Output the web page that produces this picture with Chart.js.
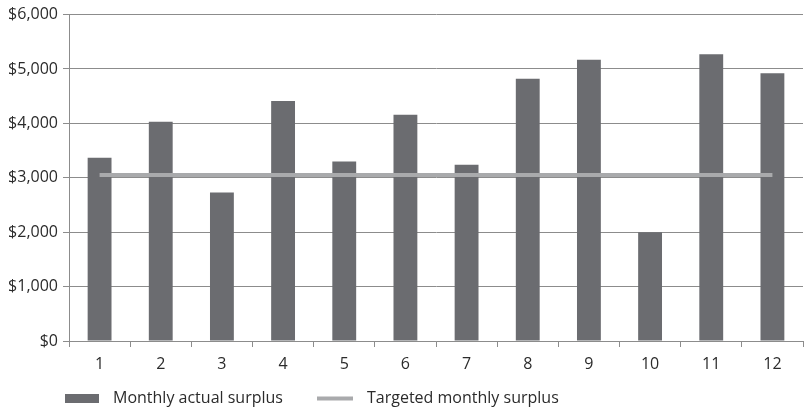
<!DOCTYPE html>
<html>
<head>
<meta charset="utf-8">
<style>
  html, body { margin: 0; padding: 0; background: #fff; }
  #wrap { width: 806px; height: 410px; }
</style>
<script src="https://cdn.jsdelivr.net/npm/chart.js@4/dist/chart.umd.min.js"></script>
</head>
<body>
<div id="wrap"><canvas id="chart" width="806" height="410"></canvas></div>
<script>
const months = ['1', '2', '3', '4', '5', '6', '7', '8', '9', '10', '11', '12'];
const actualSurplus = [3370, 4030, 2730, 4410, 3300, 4160, 3240, 4820, 5170, 2000, 5270, 4920];
const targetSurplus = [3050, 3050, 3050, 3050, 3050, 3050, 3050, 3050, 3050, 3050, 3050, 3050];
const yTicks = [0, 1000, 2000, 3000, 4000, 5000, 6000];

const FONT = '"Open Sans", "Noto Sans", sans-serif';
const FONT_SIZE = 16;
const TEXT = '#2b2b2b';
const GRID = '#8c8c8c';

// Legend along the bottom: filled box for the bars, short stroke for the line
const bottomLegend = {
  id: 'bottomLegend',
  afterDraw(chart) {
    const { ctx } = chart;
    const y = 398.5;
    const items = [
      { x: 65, w: 34, ds: chart.data.datasets[0] },
      { x: 317, w: 36, ds: chart.data.datasets[1] },
    ];
    ctx.save();
    ctx.font = FONT_SIZE + 'px ' + FONT;
    ctx.textBaseline = 'middle';
    items.forEach((it) => {
      if (it.ds.type === 'line') {
        ctx.strokeStyle = it.ds.borderColor;
        ctx.lineWidth = it.ds.borderWidth;
        ctx.beginPath();
        ctx.moveTo(it.x, y);
        ctx.lineTo(it.x + it.w, y);
        ctx.stroke();
      } else {
        ctx.fillStyle = it.ds.backgroundColor;
        ctx.fillRect(it.x, y - 4.5, it.w, 9);
      }
      ctx.fillStyle = TEXT;
      ctx.fillText(it.ds.label, it.x + it.w + 14, y);
    });
    ctx.restore();
  },
};

new Chart(document.getElementById('chart'), {
  data: {
    labels: months,
    datasets: [
      {
        type: 'bar',
        label: 'Monthly actual surplus',
        data: actualSurplus,
        backgroundColor: '#6b6c70',
        borderWidth: 0,
        categoryPercentage: 1,
        barPercentage: 0.39,
        order: 2,
      },
      {
        type: 'line',
        label: 'Targeted monthly surplus',
        data: targetSurplus,
        borderColor: '#a9aaac',
        borderWidth: 4,
        pointRadius: 0,
        fill: false,
        order: 1,
      },
    ],
  },
  options: {
    responsive: false,
    animation: false,
    layout: { padding: { top: 13, left: 0, right: 3, bottom: 34 } },
    plugins: {
      legend: { display: false },
      tooltip: { enabled: false },
    },
    scales: {
      x: {
        offset: true,
        grid: { offset: true, drawOnChartArea: false, drawTicks: true, tickLength: 6, color: GRID },
        border: { color: GRID, width: 1 },
        ticks: { color: TEXT, font: { family: FONT, size: FONT_SIZE }, padding: 8, maxRotation: 0 },
        afterFit(scale) { scale.height = 35; },
      },
      y: {
        min: 0,
        max: 6000,
        afterBuildTicks(scale) { scale.ticks = yTicks.map((v) => ({ value: v })); },
        grid: { color: GRID, tickLength: 6 },
        border: { color: GRID, width: 1 },
        ticks: {
          color: TEXT,
          font: { family: FONT, size: FONT_SIZE },
          padding: 5,
          callback: (v) => '$' + v.toLocaleString('en-US'),
        },
        afterFit(scale) { scale.width = 69; },
      },
    },
  },
  plugins: [bottomLegend],
});
</script>
</body>
</html>
